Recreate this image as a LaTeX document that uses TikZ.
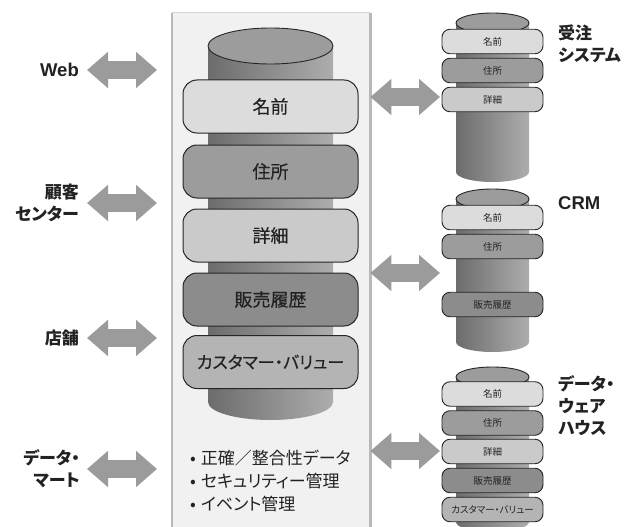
\documentclass[tikz,border=0pt]{standalone}
\usepackage{fontspec}
\setmainfont{Noto Sans CJK JP}[RawFeature=+palt]
\newfontfamily\latinfont{Liberation Sans}
\usetikzlibrary{arrows.meta}

\definecolor{panelbg}{HTML}{F1F1F1}
\definecolor{panelline}{HTML}{B8B8B8}
\definecolor{barline}{HTML}{262626}
\definecolor{txt}{HTML}{222222}
\definecolor{arrowgray}{HTML}{9B9B9B}
\definecolor{cylL}{HTML}{6C6C6C}
\definecolor{cylR}{HTML}{ADADAD}
\definecolor{topfill}{HTML}{9C9C9C}
\definecolor{fName}{HTML}{DCDCDC}
\definecolor{fAddr}{HTML}{9C9C9C}
\definecolor{fDetail}{HTML}{CACACA}
\definecolor{fHist}{HTML}{8C8C8C}
\definecolor{fValue}{HTML}{B4B4B4}

\tikzset{
  bigbar/.style={draw=barline, line width=1pt, rounded corners=14pt,
    minimum width=175pt, minimum height=53pt, inner sep=0pt, text=txt,
    font=\fontsize{18}{21}\selectfont\addfontfeatures{FakeBold=0.4}},
  smallbar/.style={draw=barline, line width=0.9pt, rounded corners=8pt,
    minimum width=101pt, minimum height=24.5pt, inner sep=0pt, text=txt,
    font=\fontsize{9.5}{11}\selectfont},
  cyltop/.style={draw=barline, line width=0.9pt, fill=topfill},
  cylbody/.style={left color=cylL, right color=cylR},
  fat/.style={draw=arrowgray, line width=18pt,
    {Triangle[length=21pt,width=35pt]}-{Triangle[length=21pt,width=35pt]}},
  lbl/.style={font=\bfseries\fontsize{17}{22}\selectfont, inner sep=0pt, text=txt},
  latinlbl/.style={font=\latinfont\bfseries\fontsize{18.5}{22}\selectfont, inner sep=0pt, text=txt},
}

\begin{document}
\begin{tikzpicture}[x=1pt, y=-1pt]
\useasboundingbox (0,0) rectangle (635,527);
\fill[white] (0,0) rectangle (635,527);

% central panel
\node[fill=panelbg, minimum width=198pt, minimum height=530pt, inner sep=0pt,
      anchor=north west] (panel) at (172,13) {};
\draw[panelline!60, line width=1pt] (panel.north west) -- (panel.north east);
\draw[panelline, line width=2.5pt] (panel.north west) -- (panel.south west);
\draw[panelline, line width=2.5pt] (panel.north east) -- (panel.south east);

% central cylinder
\shade[cylbody] (208,46) -- (208,402)
  arc[start angle=180, end angle=360, x radius=62.5pt, y radius=18pt]
  -- (333,46) -- cycle;
\draw[cyltop] (270.5,46) ellipse[x radius=62.5pt, y radius=18pt];

\node[bigbar, fill=fName]   (cName)   at (270.5,106.5) {名前};
\node[bigbar, fill=fAddr]   (cAddr)   at (270.5,171.5) {住所};
\node[bigbar, fill=fDetail] (cDetail) at (270.5,235.5) {詳細};
\node[bigbar, fill=fHist]   (cHist)   at (270.5,299.5) {販売履歴};
\node[bigbar, fill=fValue, font=\fontsize{17}{20}\selectfont\addfontfeatures{FakeBold=0.4}]
  (cValue) at (270.5,362) {カスタマー・バリュー};

\node[anchor=west, align=left, inner sep=0pt, text=txt,
      font=\fontsize{17}{23}\selectfont] (notes) at (190,481)
  {•\hspace{5pt}正確／整合性データ\\•\hspace{5pt}セキュリティー管理\\•\hspace{5pt}イベント管理};

% left-hand sources
\node[latinlbl, anchor=east] (web) at (79,70) {Web};
\node[lbl, anchor=east, align=right] (center) at (79,203) {顧客\\センター};
\node[lbl, anchor=east] (store) at (79,338) {店舗};
\node[lbl, anchor=east, align=right] (mart) at (80,469) {データ・\\マート};

\draw[fat] ([xshift=8pt]web.east) -- ([xshift=-15pt]panel.west |- web.east);
\draw[fat] ([xshift=8pt]center.east) -- ([xshift=-15pt]panel.west |- center.east);
\draw[fat] ([xshift=8pt]store.east) -- ([xshift=-15pt]panel.west |- store.east);
\draw[fat] ([xshift=7pt]mart.east) -- ([xshift=-15pt]panel.west |- mart.east);

% order system cylinder
\shade[cylbody] (456,23) -- (456,172)
  arc[start angle=180, end angle=360, x radius=36.5pt, y radius=10pt]
  -- (529,23) -- cycle;
\draw[cyltop] (492.5,23) ellipse[x radius=36.5pt, y radius=10pt];
\node[smallbar, fill=fName]   (oName)   at (492.5,41.5) {名前};
\node[smallbar, fill=fAddr]   (oAddr)   at (492.5,70.5) {住所};
\node[smallbar, fill=fDetail] (oDetail) at (492.5,99.5) {詳細};
\node[lbl, anchor=west, align=left] (order) at (558,43.5) {受注\\システム};

% CRM cylinder
\shade[cylbody] (456,199) -- (456,342)
  arc[start angle=180, end angle=360, x radius=36.5pt, y radius=10pt]
  -- (529,199) -- cycle;
\draw[cyltop] (492.5,199) ellipse[x radius=36.5pt, y radius=10pt];
\node[smallbar, fill=fName] (mName) at (492.5,217.5) {名前};
\node[smallbar, fill=fAddr] (mAddr) at (492.5,246.5) {住所};
\node[smallbar, fill=fHist] (mHist) at (492.5,304.5) {販売履歴};
\node[latinlbl, anchor=west] (crm) at (558,203) {CRM};

% data warehouse cylinder
\shade[cylbody] (456,377) -- (456,522)
  arc[start angle=180, end angle=360, x radius=36.5pt, y radius=10pt]
  -- (529,377) -- cycle;
\draw[cyltop] (492.5,377) ellipse[x radius=36.5pt, y radius=10pt];
\node[smallbar, fill=fName]   (wName)   at (492.5,394)   {名前};
\node[smallbar, fill=fAddr]   (wAddr)   at (492.5,423)   {住所};
\node[smallbar, fill=fDetail] (wDetail) at (492.5,451.5) {詳細};
\node[smallbar, fill=fHist]   (wHist)   at (492.5,480.5) {販売履歴};
\node[smallbar, fill=fValue]  (wValue)  at (492.5,509.5) {カスタマー・バリュー};
\node[lbl, anchor=west, align=left] (dwh) at (558,405.5) {データ・\\ウェア\\ハウス};

% links from the hub to the target systems
\coordinate (r1) at (440,97);
\coordinate (r2) at (440,273);
\coordinate (r3) at (440,451);
\draw[fat] (panel.east |- r1) -- (r1);
\draw[fat] (panel.east |- r2) -- (r2);
\draw[fat] (panel.east |- r3) -- (r3);
\end{tikzpicture}
\end{document}
